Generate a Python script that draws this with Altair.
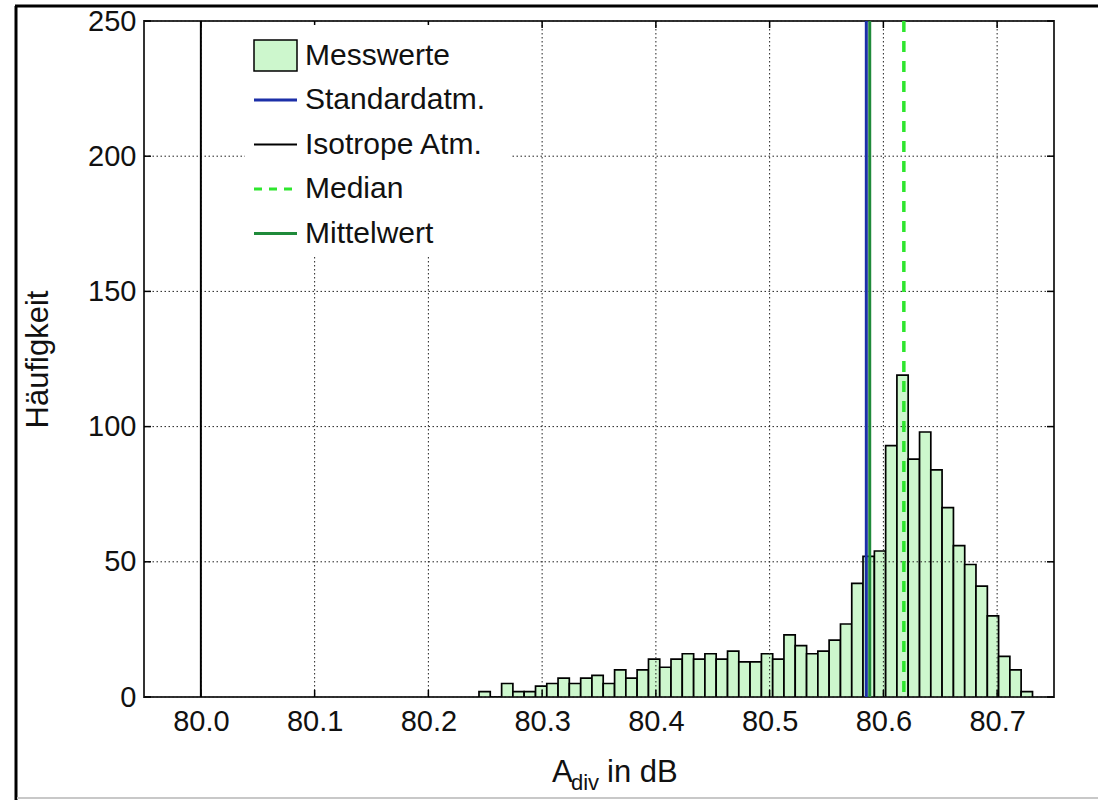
import altair as alt
import pandas as pd

# ---------------- data ----------------
series_names = ["Messwerte", "Standardatm.", "Isotrope Atm.", "Median", "Mittelwert"]
series_colors = ["#cdf7cd", "#1c2fa8", "#000000", "#2ee62e", "#1f8a3a"]

bin_edges = [
    80.2445, 80.2544, 80.2644, 80.2743, 80.2842, 80.2942, 80.3041, 80.3140, 80.3239, 80.3339,
    80.3438, 80.3537, 80.3637, 80.3736, 80.3835, 80.3935, 80.4034, 80.4133, 80.4232, 80.4332,
    80.4431, 80.4530, 80.4630, 80.4729, 80.4828, 80.4928, 80.5027, 80.5126, 80.5225, 80.5325,
    80.5424, 80.5523, 80.5623, 80.5722, 80.5821, 80.5921, 80.6020, 80.6119, 80.6218, 80.6318,
    80.6417, 80.6516, 80.6616, 80.6715, 80.6814, 80.6914, 80.7013, 80.7112, 80.7211, 80.7311,
]
counts = [
    2, 0, 5, 2, 2, 4, 5, 7, 5, 7,
    8, 5, 10, 7, 10, 14, 11, 14, 16, 14,
    16, 14, 17, 13, 13, 16, 14, 23, 19, 16,
    17, 21, 27, 42, 52, 54, 93, 119, 88, 98,
    84, 70, 56, 49, 41, 30, 15, 10, 2,
]

line_names = ["Isotrope Atm.", "Standardatm.", "Mittelwert", "Median"]
line_values = [80.0, 80.585, 80.588, 80.618]

x_ticks = [80.0, 80.1, 80.2, 80.3, 80.4, 80.5, 80.6, 80.7]
y_ticks = [0, 50, 100, 150, 200, 250]

FONT = "Liberation Sans"
W, H = 910, 676
color_of = dict(zip(series_names, series_colors))

# ---------------- tables ----------------
bars = pd.DataFrame({
    "x0": bin_edges[:-1],
    "x1": bin_edges[1:],
    "count": counts,
})
lines = pd.DataFrame({"x": line_values, "series": line_names})
xt = pd.DataFrame({"t": x_ticks})
yt = pd.DataFrame({"t": y_ticks})
one = pd.DataFrame({"a": [0]})

xscale = alt.Scale(domain=[79.95, 80.75], nice=False, zero=False)
yscale = alt.Scale(domain=[0, 250], nice=False)

x_axis = alt.Axis(values=x_ticks, format=".1f", title=None, labelFontSize=29,
                  labelFont=FONT, labelColor="#111111", ticks=False, domain=False,
                  labelPadding=10, grid=False)
y_axis = alt.Axis(values=y_ticks, title="Häufigkeit", labelFontSize=29,
                  labelFont=FONT, labelColor="#111111", ticks=False, domain=False,
                  labelPadding=8, titleFont=FONT, titleFontSize=31,
                  titleFontWeight="normal", titleColor="#111111", titlePadding=33,
                  grid=False)


def X(field):
    return alt.X(field, scale=xscale, axis=x_axis)


def Y(field):
    return alt.Y(field, scale=yscale, axis=y_axis)


bar_layer = alt.Chart(bars).mark_bar(
    fill=color_of["Messwerte"], stroke="black", strokeWidth=1.7, clip=True
).encode(
    x=X("x0:Q"),
    x2="x1:Q",
    y=Y("count:Q"),
    y2=alt.datum(0),
)

grid_style = dict(color="#222222", strokeWidth=1, strokeDash=[1.5, 2.5])
grid_x = alt.Chart(xt).mark_rule(**grid_style).encode(x=X("t:Q"))
grid_y = alt.Chart(yt).mark_rule(**grid_style).encode(y=Y("t:Q"))


def vline(name, width, dash=None):
    kw = dict(strokeWidth=width, color=color_of[name])
    if dash:
        kw["strokeDash"] = dash
    return alt.Chart(lines).transform_filter(alt.datum.series == name).mark_rule(**kw).encode(
        x=X("x:Q"),
    )


iso = vline("Isotrope Atm.", 2)
std = vline("Standardatm.", 3)
mean = vline("Mittelwert", 3)
med = vline("Median", 3.5, [11, 9])

tick_style = dict(color="black", strokeWidth=1.5)
xt_bottom = alt.Chart(xt).mark_rule(**tick_style).encode(
    x=X("t:Q"), y=alt.value(H), y2=alt.value(H - 7))
xt_top = alt.Chart(xt).mark_rule(**tick_style).encode(
    x=X("t:Q"), y=alt.value(0), y2=alt.value(7))
yt_left = alt.Chart(yt).mark_rule(**tick_style).encode(
    y=Y("t:Q"), x=alt.value(0), x2=alt.value(7))
yt_right = alt.Chart(yt).mark_rule(**tick_style).encode(
    y=Y("t:Q"), x=alt.value(W), x2=alt.value(W - 7))

# ---------------- legend (drawn by hand, no frame, white background) ----------------
legend_rows_y = [34.5, 79, 123.5, 168, 212.5]
sym_x0, sym_x1, text_x = 110, 153, 161
legend_layers = [
    alt.Chart(one).mark_rect(fill="white").encode(
        x=alt.value(101), x2=alt.value(366), y=alt.value(4), y2=alt.value(234))
]
for name, ry in zip(series_names, legend_rows_y):
    if name == "Messwerte":
        sym = alt.Chart(one).mark_rect(fill=color_of[name], stroke="black", strokeWidth=1.5).encode(
            x=alt.value(sym_x0), x2=alt.value(sym_x1), y=alt.value(ry - 15.5), y2=alt.value(ry + 15.5))
    else:
        kw = dict(color=color_of[name], strokeWidth=3 if name != "Isotrope Atm." else 2)
        if name == "Median":
            kw["strokeDash"] = [8, 7]
        sym = alt.Chart(one).mark_rule(**kw).encode(
            x=alt.value(sym_x0), x2=alt.value(sym_x1), y=alt.value(ry))
    txt = alt.Chart(one).mark_text(align="left", baseline="middle", font=FONT, fontSize=30,
                                   color="#111111").encode(
        x=alt.value(text_x), y=alt.value(ry), text=alt.value(name))
    legend_layers += [sym, txt]

# x-axis title with subscript
t_a = alt.Chart(one).mark_text(align="left", baseline="alphabetic", font=FONT, fontSize=31,
                               color="#111111").encode(x=alt.value(408), y=alt.value(761), text=alt.value("A"))
t_div = alt.Chart(one).mark_text(align="left", baseline="alphabetic", font=FONT, fontSize=22,
                                 color="#111111").encode(x=alt.value(427), y=alt.value(769), text=alt.value("div"))
t_in = alt.Chart(one).mark_text(align="left", baseline="alphabetic", font=FONT, fontSize=31,
                                color="#111111").encode(x=alt.value(463), y=alt.value(761), text=alt.value("in dB"))

# figure frame
frame_left = alt.Chart(one).mark_rule(color="black", strokeWidth=3, clip=False).encode(
    x=alt.value(-128), y=alt.value(-15), y2=alt.value(779))
frame_top = alt.Chart(one).mark_rule(color="black", strokeWidth=3, clip=False).encode(
    x=alt.value(-129), x2=alt.value(960), y=alt.value(-15))
frame_bottom = alt.Chart(one).mark_rule(color="#c8c8c8", strokeWidth=2, clip=False).encode(
    x=alt.value(-127), x2=alt.value(960), y=alt.value(777))

chart = alt.layer(
    bar_layer, grid_x, grid_y, iso, std, mean, med,
    xt_bottom, xt_top, yt_left, yt_right,
    *legend_layers,
    t_a, t_div, t_in,
    frame_left, frame_top, frame_bottom,
).properties(
    width=W, height=H,
    padding={"left": 144, "top": 21, "right": 44, "bottom": 103},
    autosize=alt.AutoSizeParams(type="none"),
).configure(font=FONT, background="white").configure_view(stroke="#333333", strokeWidth=2)

chart.save("out.html", embed_options={"renderer": "svg", "actions": False})
